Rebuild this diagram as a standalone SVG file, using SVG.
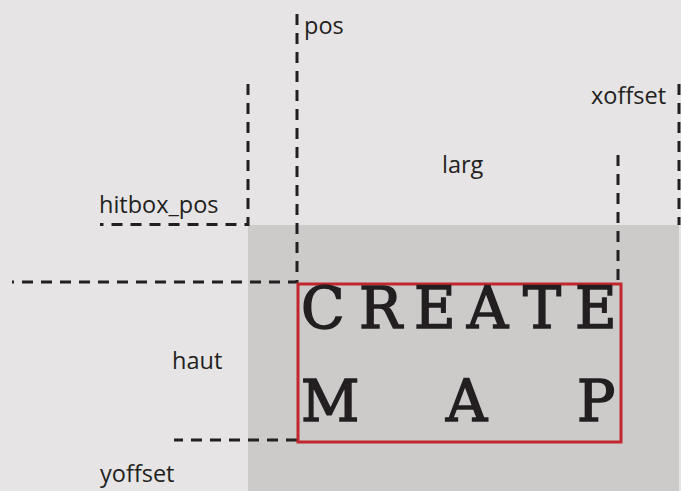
<svg xmlns="http://www.w3.org/2000/svg" width="681" height="491" viewBox="0 0 681 491">
  <style>
    .guide { fill: none; stroke: #231f20; stroke-width: 3; stroke-dasharray: 11 8; }
    .lbl { font-family: "Open Sans", "Noto Sans", sans-serif; font-size: 23.5px; fill: #231f20; }
    .big { font-family: "DejaVu Serif", "Liberation Serif", serif; font-size: 57px; fill: #231f20; stroke: #231f20; stroke-width: 1.6; }
  </style>
  <rect width="681" height="491" fill="#e6e4e5"/>
  <rect id="hitbox" x="248" y="225" width="431" height="266" fill="#cccbca"/>

  <g id="connectors">
    <path class="guide" d="M297 14 V282 H12"/>
    <path class="guide" d="M248 84 V224.5 H100"/>
    <path class="guide" d="M618 155 V284"/>
    <path class="guide" d="M679 84 V225"/>
    <path class="guide" d="M297 440 H174"/>
  </g>

  <g id="sprite">
    <rect x="298" y="284" width="323" height="158" fill="none" stroke="#c1272d" stroke-width="3"/>
    <text class="big" x="301 359 414 467 523 575" y="328">CREATE</text>
    <text class="big" x="301 446 577" y="421">MAP</text>
  </g>

  <g id="labels">
    <text id="pos" class="lbl" x="304" y="34">pos</text>
    <text id="hitbox_pos" class="lbl" x="99" y="213">hitbox_pos</text>
    <text id="larg" class="lbl" x="442" y="173">larg</text>
    <text id="xoffset" class="lbl" x="591" y="104">xoffset</text>
    <text id="haut" class="lbl" x="172" y="369">haut</text>
    <text id="yoffset" class="lbl" x="100" y="482">yoffset</text>
  </g>
</svg>
